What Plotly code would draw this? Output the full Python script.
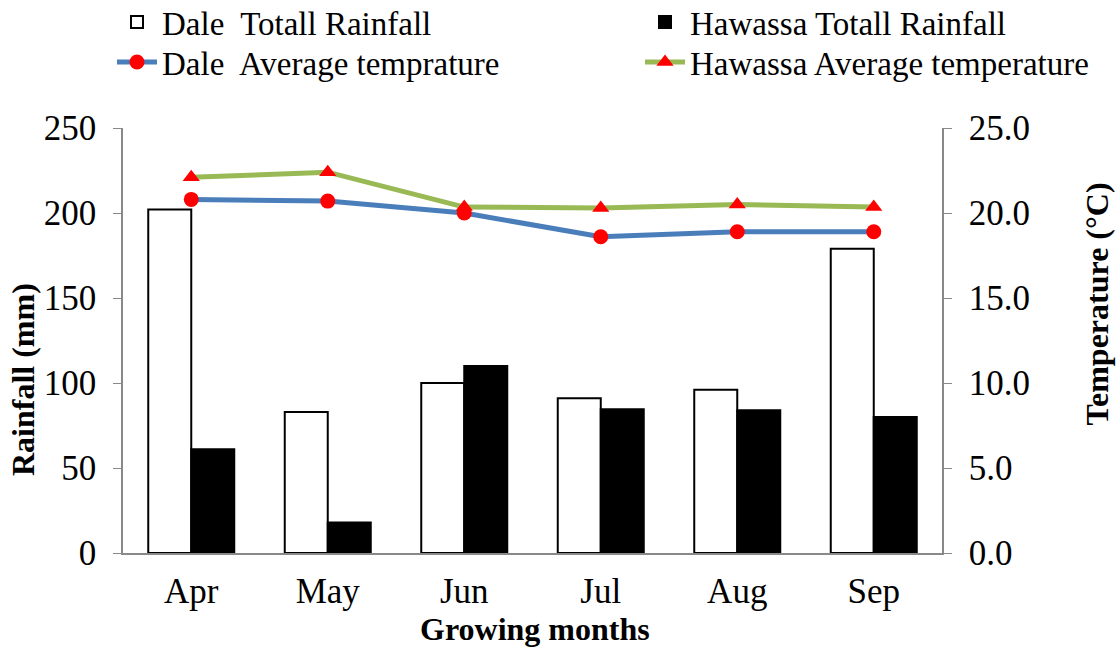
import plotly.graph_objects as go

months = ["Apr", "May", "Jun", "Jul", "Aug", "Sep"]
dale_rain = [202, 83, 100, 91, 96, 179]
hawassa_rain = [61, 18, 110, 84.5, 84, 80]
dale_temp = [20.8, 20.7, 20.0, 18.6, 18.9, 18.9]
hawassa_temp = [22.1, 22.4, 20.35, 20.3, 20.5, 20.35]

FONT = "Liberation Serif"
AXC = "#898989"
TICK = 35
TITLE = 32
LEG = 33

fig = go.Figure()
fig.add_trace(go.Bar(x=months, y=dale_rain, name="Dale  Totall Rainfall",
                     marker=dict(color="white", line=dict(color="black", width=2)),
                     legend="legend"))
fig.add_trace(go.Bar(x=months, y=hawassa_rain, name="Hawassa Totall Rainfall",
                     marker=dict(color="black", line=dict(color="black", width=2)),
                     legend="legend2"))
fig.add_trace(go.Scatter(x=months, y=dale_temp, name="Dale  Average temprature", yaxis="y2",
                         mode="lines+markers", line=dict(color="#4A7EBB", width=5),
                         marker=dict(symbol="circle", size=15, color="red"),
                         legend="legend3"))
fig.add_trace(go.Scatter(x=months, y=hawassa_temp, name="Hawassa Average temperature", yaxis="y2",
                         mode="lines+markers", line=dict(color="#98B954", width=5),
                         marker=dict(symbol="triangle-up", size=15, color="red"),
                         legend="legend4"))

leg_common = dict(orientation="v", yref="container", yanchor="middle", xref="container",
                  xanchor="left", font=dict(family=FONT, size=LEG, color="black"),
                  itemwidth=40, bgcolor="rgba(0,0,0,0)")

annotations = [
    dict(text="<b>Rainfall (mm)</b>", xref="paper", yref="paper", x=-0.1221, y=0.407,
         textangle=-90, showarrow=False, xanchor="center", yanchor="middle",
         font=dict(family=FONT, size=TITLE, color="black")),
    dict(text="<b>Temperature (°C)</b>", xref="paper", yref="paper", x=1.1893, y=0.585,
         textangle=-90, showarrow=False, xanchor="center", yanchor="middle",
         font=dict(family=FONT, size=TITLE, color="black")),
    dict(text="<b>Growing months</b>", xref="paper", yref="paper", x=0.503, y=-0.2259,
         showarrow=False, xanchor="center", yanchor="bottom",
         font=dict(family=FONT, size=TITLE, color="black")),
]

fig.update_layout(
    width=1119, height=650,
    margin=dict(l=123, r=177, t=128, b=97, autoexpand=False),
    paper_bgcolor="white", plot_bgcolor="white",
    font=dict(family=FONT, size=TICK, color="black"),
    barmode="group", bargap=0.37, bargroupgap=0.0,
    showlegend=True,
    legend=dict(x=112 / 1119, y=1 - 22 / 650, **leg_common),
    legend2=dict(x=640 / 1119, y=1 - 22 / 650, **leg_common),
    legend3=dict(x=112 / 1119, y=1 - 62 / 650, **leg_common),
    legend4=dict(x=640 / 1119, y=1 - 62 / 650, **leg_common),
    annotations=annotations,
    xaxis=dict(showline=True, linecolor=AXC, linewidth=1.5, ticks="", automargin=False,
               ticklabelstandoff=6,
               tickfont=dict(family=FONT, size=TICK), showgrid=False),
    yaxis=dict(range=[0, 250], dtick=50, showline=True, linecolor=AXC, linewidth=1.5,
               ticks="outside", ticklen=8, tickcolor=AXC, showgrid=False, zeroline=False,
               automargin=False, ticklabelstandoff=10,
               tickfont=dict(family=FONT, size=TICK)),
    yaxis2=dict(range=[0, 25], dtick=5, tickformat=".1f", overlaying="y", side="right",
                showline=True, linecolor=AXC, linewidth=1.5, ticks="outside", ticklen=8,
                tickcolor=AXC, showgrid=False, zeroline=False, automargin=False,
                ticklabelstandoff=10,
                tickfont=dict(family=FONT, size=TICK)),
)

fig.write_html("out.html", config={"displayModeBar": False},
               post_script="document.body.style.margin='0px';")
